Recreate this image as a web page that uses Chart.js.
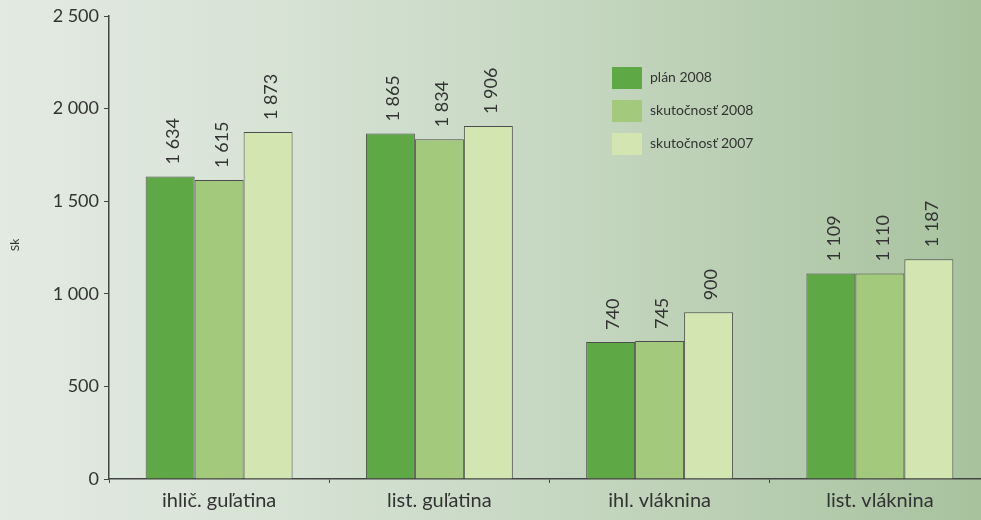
<!DOCTYPE html>
<html><head><meta charset="utf-8">
<script src="https://cdn.jsdelivr.net/npm/chart.js@4/dist/chart.umd.min.js"></script>
<style>
html,body{margin:0;padding:0;overflow:hidden;width:981px;height:520px;}
#wrap{position:relative;width:981px;height:520px;overflow:hidden;
background:linear-gradient(to right,#e3eae2 0%,#d6e2d4 30%,#c4d6bf 60%,#a8c29e 100%);}
#wrap canvas{position:absolute;left:0;top:0;}
</style></head>
<body><div id="wrap"><canvas id="c" width="990" height="520"></canvas></div>
<script>
const categories = ['ihlič. guľatina', 'list. guľatina', 'ihl. vláknina', 'list. vláknina'];
const seriesNames = ['plán 2008', 'skutočnosť 2008', 'skutočnosť 2007'];
const plan2008 = [1634, 1865, 740, 1109];
const skut2008 = [1615, 1834, 745, 1110];
const skut2007 = [1873, 1906, 900, 1187];
const yTicks = [0, 500, 1000, 1500, 2000, 2500];
const colors = ['#5fa846', '#a2c97c', '#d3e5b1'];
const FONT = 'Lato, "Open Sans", sans-serif';
const TXT = '#333333';

function fmt(v){ return String(v).replace(/\B(?=(\d{3})+(?!\d))/g, ' '); }

const labelPlugin = {
  id: 'labels',
  afterDatasetsDraw(chart){
    const ctx = chart.ctx;
    ctx.save();
    ctx.fillStyle = TXT;
    ctx.font = '18px ' + FONT;
    chart.data.datasets.forEach((ds, i) => {
      const meta = chart.getDatasetMeta(i);
      meta.data.forEach((bar, j) => {
        ctx.save();
        ctx.translate(bar.x + 3, bar.y - 12);
        ctx.rotate(-Math.PI/2);
        ctx.textAlign = 'left';
        ctx.textBaseline = 'middle';
        ctx.fillText(fmt(ds.data[j]), 0, 0);
        ctx.restore();
      });
    });
    // legend
    const lx = 612, ly = 67;
    ctx.font = '14px ' + FONT;
    ctx.textBaseline = 'middle';
    ctx.textAlign = 'left';
    chart.data.datasets.forEach((ds, i) => {
      ctx.fillStyle = ds.backgroundColor;
      ctx.fillRect(lx, ly + i*33, 30, 22);
      ctx.fillStyle = TXT;
      ctx.fillText(ds.label, lx + 38, ly + i*33 + 10);
    });
    // axis title
    ctx.save();
    ctx.translate(15, 245);
    ctx.rotate(-Math.PI/2);
    ctx.textAlign = 'center';
    ctx.font = '12px ' + FONT;
    ctx.fillText('Sk', 0, 0);
    ctx.restore();
    ctx.restore();
  }
};

new Chart(document.getElementById('c'), {
  type: 'bar',
  data: {
    labels: categories,
    datasets: [plan2008, skut2008, skut2007].map((d, i) => ({
      label: seriesNames[i], data: d, backgroundColor: colors[i],
      borderColor: '#4d4d4d', borderWidth: 1,
      categoryPercentage: 0.667, barPercentage: 1.0
    }))
  },
  options: {
    responsive: false, animation: false,
    layout: { padding: { top: 16, left: 0, right: 0, bottom: 0 } },
    plugins: { legend: { display: false }, tooltip: { enabled: false } },
    scales: {
      x: {
        grid: { drawOnChartArea: false, drawTicks: true, tickLength: 4, color: '#444', offset: true },
        border: { display: true, color: '#444', width: 1.5 },
        ticks: { color: TXT, font: { family: FONT, size: 20 }, padding: 6 },
        afterFit(s){ s.height = 41; }
      },
      y: {
        min: 0, max: 2500,
        afterBuildTicks(s){ s.ticks = yTicks.map(v => ({ value: v })); },
        grid: { drawOnChartArea: false, drawTicks: true, tickLength: 5, color: '#444' },
        border: { display: true, color: '#444', width: 1.5 },
        ticks: { color: TXT, font: { family: FONT, size: 18 }, padding: 5, callback: v => fmt(v) },
        afterFit(s){ s.width = 109; }
      }
    }
  },
  plugins: [labelPlugin]
});
</script></body></html>
